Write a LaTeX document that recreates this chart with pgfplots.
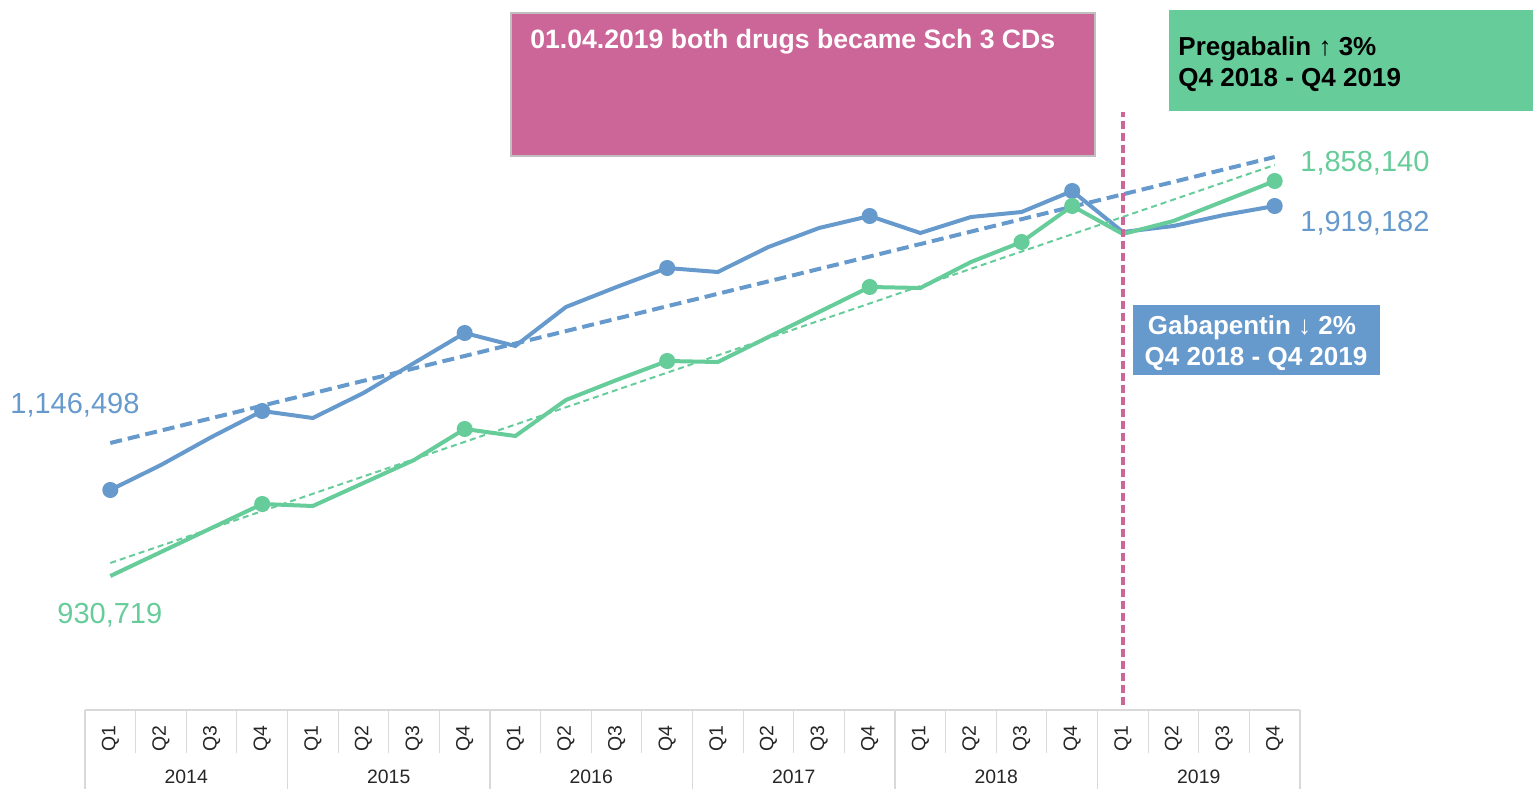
\documentclass[border=0pt]{standalone}
\usepackage{pgfplots}
\pgfplotsset{compat=1.18}
\usepackage{fontspec}
\setmainfont{Liberation Sans}
\definecolor{gblue}{HTML}{6699CC}
\definecolor{ggreen}{HTML}{66CC99}
\definecolor{gpink}{HTML}{CC6699}
\definecolor{ggrid}{HTML}{D9D9D9}
\begin{document}
\begin{tikzpicture}
\useasboundingbox (-42.5pt,-39.5pt) rectangle (724pt,355pt);
% Gabapentin (blue) axis
\begin{axis}[at={(0,0)}, anchor=south west, scale only axis,
  width=607.5pt, height=355pt,
  xmin=-0.5, xmax=23.5, ymin=547944, ymax=2479641,
  axis line style={draw=none}, ytick=\empty,
  xtick={0,...,23},
  xticklabels={Q1,Q2,Q3,Q4,Q1,Q2,Q3,Q4,Q1,Q2,Q3,Q4,Q1,Q2,Q3,Q4,Q1,Q2,Q3,Q4,Q1,Q2,Q3,Q4},
  x tick label style={yshift=-4.5pt, rotate=90, anchor=east, font=\fontsize{9.7}{11}\selectfont, text=black!85},
  major tick length=0pt, clip=false]
\addplot[gblue, line width=2pt, mark=*, mark size=3pt, mark indices={1,4,8,12,16,20,24}, mark options={solid}] coordinates {
(0,1146498) (1,1214516) (2,1290695) (3,1361433) (4,1342388) (5,1410406)
(6,1492027) (7,1573648) (8,1538279) (9,1644386) (10,1698800) (11,1750493)
(12,1739611) (13,1807628) (14,1859321) (15,1891970) (16,1845718) (17,1889249)
(18,1902853) (19,1959987) (20,1848439) (21,1864763) (22,1894691) (23,1919182)};
\addplot[gblue, line width=2pt, dash pattern=on 6pt off 3pt] coordinates {(0,1274371) (23,2052491)};
\end{axis}
% Pregabalin (green) axis
\begin{axis}[at={(0,0)}, anchor=south west, scale only axis,
  width=607.5pt, height=355pt,
  xmin=-0.5, xmax=23.5, ymin=616100, ymax=2283109,
  axis lines=none, clip=false]
\addplot[ggreen, line width=2pt, mark=*, mark size=3pt, mark indices={4,8,12,16,19,20,24}, mark options={solid}] coordinates {
(0,930719) (1,987069) (2,1043418) (3,1099768) (4,1095072) (5,1149074)
(6,1203075) (7,1275860) (8,1259425) (9,1343949) (10,1390907) (11,1435518)
(12,1433170) (13,1491867) (14,1550565) (15,1609262) (16,1606914) (17,1667960)
(18,1714918) (19,1799442) (20,1733701) (21,1764224) (22,1811182) (23,1858140)};
\addplot[ggreen, line width=1pt, dash pattern=on 3pt off 2pt] coordinates {(0,961242) (23,1895706)};
\draw[gpink, line width=2pt, dash pattern=on 4pt off 2pt] (axis cs:20,627840) -- (axis cs:20,2020145);
\end{axis}
% category table lines
\draw[ggrid, line width=0.6pt] (0,0) -- (607.5pt,0);
\foreach \i in {1,2,3,5,6,7,9,10,11,13,14,15,17,18,19,21,22,23}{
  \draw[ggrid, line width=0.6pt] (\i*25.3125pt,0) -- (\i*25.3125pt,-21.5pt);
}
\foreach \i in {0,4,8,12,16,20,24}{
  \draw[ggrid, line width=0.6pt] (\i*25.3125pt,0) -- (\i*25.3125pt,-39.5pt);
}
\foreach \k/\y in {0/2014,1/2015,2/2016,3/2017,4/2018,5/2019}{
  \node[font=\fontsize{9.7}{11}\selectfont, text=black!85] at ({(4*\k+2)*25.3125pt},-33.5pt) {\y};
}
% value labels
\node[anchor=west, inner sep=0pt, text=gblue, font=\fontsize{14.5}{16}\selectfont] at (-37.5pt,152.5pt) {1,146,498};
\node[anchor=west, inner sep=0pt, text=ggreen, font=\fontsize{14.5}{16}\selectfont] at (-14pt,47.5pt) {930,719};
\node[anchor=west, inner sep=0pt, text=ggreen, font=\fontsize{14.5}{16}\selectfont] at (607.5pt,273.5pt) {1,858,140};
\node[anchor=west, inner sep=0pt, text=gblue, font=\fontsize{14.5}{16}\selectfont] at (607.5pt,243.5pt) {1,919,182};
% boxes
\fill[gpink, draw=black!25, line width=0.6pt] (213pt,277pt) rectangle (505pt,348.5pt);
\node[anchor=west, inner sep=0pt, text=white, font=\bfseries\fontsize{13.3}{15}\selectfont] at (222.5pt,334pt) {01.04.2019 both drugs became Sch 3 CDs};
\fill[ggreen] (542pt,299.5pt) rectangle (724pt,350pt);
\node[anchor=west, inner sep=0pt, text=black, font=\bfseries\fontsize{13}{15}\selectfont] at (546.5pt,330.5pt) {Pregabalin ↑ 3\%};
\node[anchor=west, inner sep=0pt, text=black, font=\bfseries\fontsize{13}{15}\selectfont] at (546.5pt,315pt) {Q4 2018 - Q4 2019};
\fill[gblue] (524pt,167.5pt) rectangle (647.5pt,202.5pt);
\node[inner sep=0pt, text=white, font=\bfseries\fontsize{13}{15}\selectfont] at (583.5pt,191pt) {Gabapentin ↓ 2\%};
\node[inner sep=0pt, text=white, font=\bfseries\fontsize{13}{15}\selectfont] at (585.5pt,175.5pt) {Q4 2018 - Q4 2019};
\end{tikzpicture}
\end{document}
